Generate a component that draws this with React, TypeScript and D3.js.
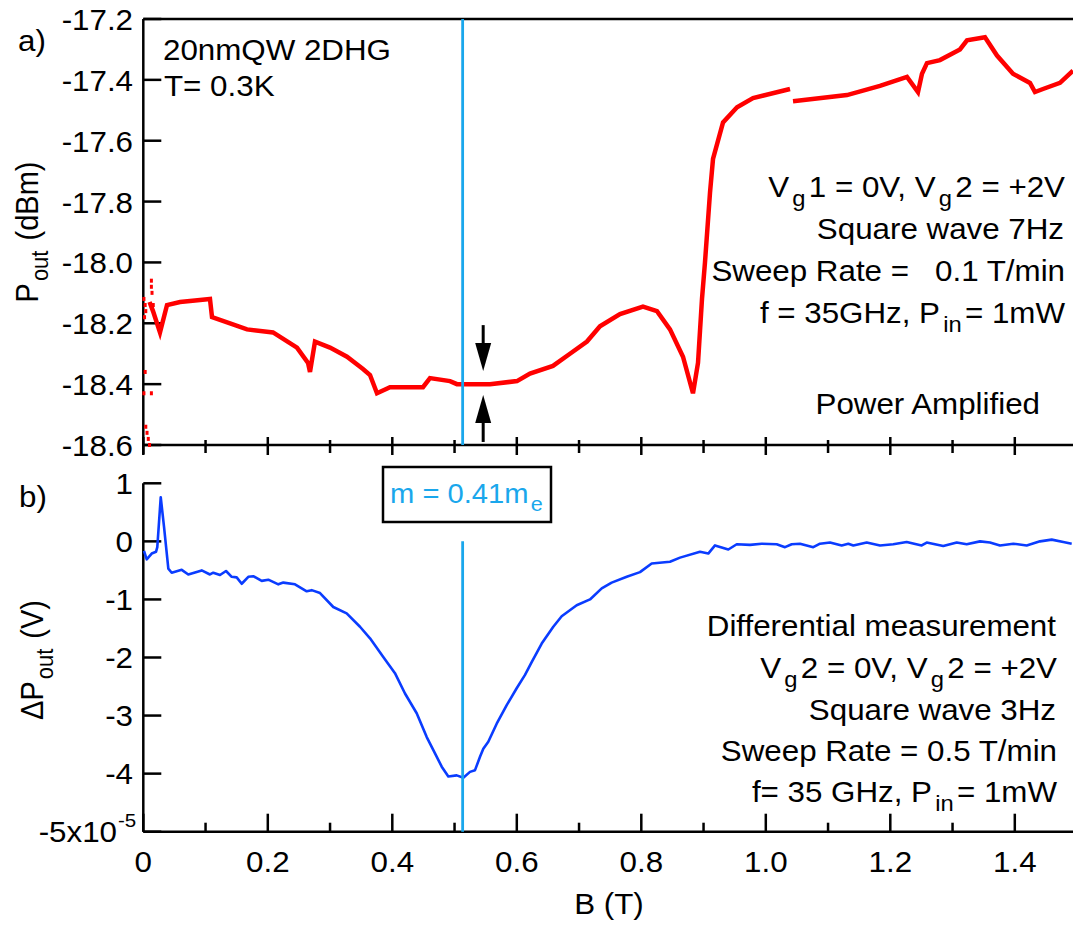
import React from 'react';
import * as d3 from 'd3';

// B field (T) and output power (dBm) for the power-amplified trace, null = gap
const redB = [0.010, 0.0156, 0.0268, 0.0381, 0.059, 0.0831, 0.1071, 0.1104, 0.1393, 0.1666, 0.2084, 0.2469, 0.2646, 0.2678, 0.2758, 0.2999, 0.3272, 0.3529, 0.3642, 0.3754, 0.3963, 0.4493, 0.4605, 0.4927, 0.5039, 0.5569, 0.6003, 0.6212, 0.6581, 0.6854, 0.7127, 0.7336, 0.7658, 0.8027, 0.8252, 0.8461, 0.867, 0.883, 0.8911, 0.8975, 0.9023, 0.9104, 0.9152, 0.9313, 0.9538, 0.9795, 1.0389, 1.041, 1.0437, 1.1304, 1.1834, 1.2268, 1.2445, 1.2509, 1.2589, 1.2798, 1.3119, 1.3232, 1.3521, 1.3714, 1.3971, 1.4244, 1.4324, 1.4453, 1.4726, 1.4935];
const redP = [-18.13, -18.16, -18.23, -18.14, -18.13, -18.125, -18.12, -18.18, -18.20, -18.22, -18.23, -18.28, -18.33, -18.36, -18.26, -18.28, -18.31, -18.35, -18.37, -18.43, -18.41, -18.41, -18.38, -18.39, -18.40, -18.40, -18.39, -18.365, -18.34, -18.30, -18.26, -18.21, -18.17, -18.145, -18.16, -18.22, -18.31, -18.43, -18.33, -18.12, -18.0, -17.77, -17.66, -17.54, -17.49, -17.46, -17.43, null, -17.47, -17.45, -17.42, -17.39, -17.44, -17.38, -17.345, -17.335, -17.30, -17.27, -17.26, -17.32, -17.38, -17.41, -17.44, -17.43, -17.41, -17.37];

// stray points at the start of the sweep
const redDotB = [0.001, 0.003, 0.004, 0.002, 0.013, 0.013, 0.014, 0.016, 0.003, 0.001, 0.013, 0.004, 0.006, 0.008, 0.010];
const redDotP = [-18.12, -18.14, -18.16, -18.18, -18.06, -18.08, -18.10, -18.14, -18.36, -18.43, -18.43, -18.54, -18.56, -18.58, -18.60];

// differential signal, units of 1e-5 V
const blueB = [0.0011, 0.0055, 0.0135, 0.0204, 0.0225, 0.028, 0.0333, 0.0402, 0.0456, 0.0617, 0.0723, 0.0938, 0.1071, 0.1124, 0.1232, 0.1329, 0.142, 0.15, 0.1581, 0.1687, 0.1767, 0.1902, 0.2008, 0.2169, 0.2249, 0.2437, 0.2625, 0.2705, 0.2839, 0.3052, 0.3267, 0.3481, 0.3642, 0.3855, 0.4043, 0.4204, 0.4392, 0.4553, 0.4686, 0.4794, 0.49, 0.5035, 0.5141, 0.5248, 0.5329, 0.5409, 0.5462, 0.5542, 0.5677, 0.5838, 0.5998, 0.6132, 0.6239, 0.64, 0.6586, 0.6721, 0.6962, 0.7176, 0.7364, 0.7524, 0.7766, 0.7979, 0.8167, 0.8461, 0.8622, 0.8943, 0.9076, 0.9184, 0.9398, 0.9533, 0.9746, 0.9934, 1.0175, 1.0309, 1.0416, 1.0549, 1.0763, 1.0871, 1.1031, 1.1219, 1.1325, 1.1406, 1.1621, 1.1835, 1.2048, 1.2263, 1.2504, 1.2585, 1.2851, 1.3067, 1.3227, 1.3441, 1.3601, 1.3762, 1.3976, 1.4191, 1.4405, 1.4593, 1.4779, 1.4914];
const blueV = [-0.165, -0.31, -0.21, -0.18, -0.1, 0.76, 0.25, -0.47, -0.54, -0.49, -0.57, -0.50, -0.57, -0.54, -0.58, -0.51, -0.61, -0.62, -0.73, -0.61, -0.60, -0.68, -0.66, -0.74, -0.71, -0.74, -0.86, -0.84, -0.89, -1.13, -1.24, -1.47, -1.67, -1.99, -2.27, -2.62, -2.96, -3.37, -3.65, -3.88, -4.05, -4.03, -4.07, -3.97, -3.94, -3.71, -3.57, -3.45, -3.14, -2.82, -2.53, -2.30, -2.08, -1.76, -1.47, -1.29, -1.10, -1.00, -0.81, -0.71, -0.61, -0.53, -0.38, -0.35, -0.28, -0.18, -0.21, -0.07, -0.14, -0.05, -0.06, -0.04, -0.05, -0.10, -0.05, -0.04, -0.10, -0.04, -0.02, -0.07, -0.04, -0.07, -0.02, -0.07, -0.05, -0.01, -0.07, -0.02, -0.08, -0.02, -0.05, 0.00, -0.02, -0.07, -0.04, -0.07, 0.00, 0.03, -0.01, -0.04];

const xMajor = [0, 0.2, 0.4, 0.6, 0.8, 1.0, 1.2, 1.4];
const xMinor = [0.1, 0.3, 0.5, 0.7, 0.9, 1.1, 1.3];
const xLabels = ['0', '0.2', '0.4', '0.6', '0.8', '1.0', '1.2', '1.4'];
const topTicks = [-17.2, -17.4, -17.6, -17.8, -18.0, -18.2, -18.4, -18.6];
const topLabels = ['-17.2', '-17.4', '-17.6', '-17.8', '-18.0', '-18.2', '-18.4', '-18.6'];
const botTicks = [1, 0, -1, -2, -3, -4, -5];
const botLabels = ['1', '0', '-1', '-2', '-3', '-4', '-5x10'];

const massB = 0.513; // resonance position
const arrowB = 0.546;

const W = 1073;
const H = 930;
const FONT = 'Liberation Sans, Arial, Helvetica, sans-serif';
const SX = 1.08;
const CYAN = '#1aa7ec';
const BLUE = '#0a3cff';

const Txt = ({ x, y, anchor = 'start', size = 29, fill = '#000', children }: any) => (
  <text transform={`translate(${x},${y}) scale(${SX},1)`} textAnchor={anchor} fontSize={size}
    fill={fill} fontFamily={FONT} style={{ whiteSpace: 'pre' }}>{children}</text>
);

// subscript followed by the rest of the line back on the baseline
const Sub = ({ s, rest }: any) => (
  <>
    <tspan dx={3} dy={9} fontSize={22}>{s}</tspan>
    <tspan dx={3} dy={-9}>{rest}</tspan>
  </>
);

export default function App() {
  const x = d3.scaleLinear().domain([0, 1.5]).range([143.3, 143.3 + 1.5 * 622.5]);
  const yTop = d3.scaleLinear().domain([-18.6, -17.2]).range([445, 19]);
  const yBot = d3.scaleLinear().domain([-5, 1]).range([831.7, 483.3]);

  const redData = redB.map((b, i) => ({ b, v: redP[i] }));
  const redLine = d3.line<any>()
    .defined(d => d.v != null)
    .x(d => x(d.b))
    .y(d => yTop(d.v));

  const blueData = blueB.map((b, i) => ({ b, v: blueV[i] }));
  const blueLine = d3.line<any>().x(d => x(d.b)).y(d => yBot(d.v));

  const x0 = x(0);
  const ax = 2.5;
  const ah = x(arrowB);

  return (
    <svg width={W} height={H} style={{ position: 'absolute', left: 0, top: 0, background: '#fff' }}>
      {/* ---- panel a ---- */}
      <line x1={x0} x2={W} y1={yTop(-17.2)} y2={yTop(-17.2)} stroke="#000" strokeWidth={ax} />
      <line x1={x0} x2={x0} y1={yTop(-17.2)} y2={yTop(-18.6) + 9} stroke="#000" strokeWidth={ax} />
      <line x1={x0} x2={W} y1={yTop(-18.6)} y2={yTop(-18.6)} stroke="#000" strokeWidth={ax} />
      {topTicks.map((t, i) => (
        <g key={'ty' + i}>
          <line x1={x0} x2={x0 + 18} y1={yTop(t)} y2={yTop(t)} stroke="#000" strokeWidth={ax} />
          <Txt x={133} y={yTop(t) + 11} anchor="end">{topLabels[i]}</Txt>
        </g>
      ))}
      {xMajor.map(t => (
        <line key={'tx' + t} x1={x(t)} x2={x(t)} y1={437} y2={455} stroke="#000" strokeWidth={ax} />
      ))}
      {xMinor.map(t => (
        <line key={'tm' + t} x1={x(t)} x2={x(t)} y1={440} y2={453} stroke="#000" strokeWidth={ax} />
      ))}

      <path d={redLine(redData) || ''} fill="none" stroke="#ff0000" strokeWidth={4.5} strokeLinejoin="miter" />
      {redDotB.map((b, i) => (
        <rect key={'rd' + i} x={x(b) - 1.5} y={yTop(redDotP[i]) - 2} width={3} height={4} fill="#ff0000" />
      ))}

      <line x1={x(massB)} x2={x(massB)} y1={yTop(-17.2)} y2={yTop(-18.6)} stroke={CYAN} strokeWidth={2.8} />

      {/* arrows marking the dip */}
      <line x1={ah} x2={ah} y1={yTop(-18.206)} y2={yTop(-18.27)} stroke="#000" strokeWidth={3} />
      <path d={`M${ah - 8},${yTop(-18.265)} L${ah + 8},${yTop(-18.265)} L${ah},${yTop(-18.357)} Z`} fill="#000" />
      <line x1={ah} x2={ah} y1={yTop(-18.59)} y2={yTop(-18.52)} stroke="#000" strokeWidth={3} />
      <path d={`M${ah - 8},${yTop(-18.528)} L${ah + 8},${yTop(-18.528)} L${ah},${yTop(-18.436)} Z`} fill="#000" />

      <Txt x={18} y={51}>a)</Txt>
      <Txt x={163} y={60}>20nmQW 2DHG</Txt>
      <Txt x={164} y={96}>T= 0.3K</Txt>
      <Txt x={1065} y={197} anchor="end">V<Sub s="g" rest="1 = 0V, V" /><Sub s="g" rest="2 = +2V" /></Txt>
      <Txt x={1064} y={239} anchor="end">Square wave 7Hz</Txt>
      <Txt x={1065} y={281} anchor="end">Sweep Rate =   0.1 T/min</Txt>
      <Txt x={1065} y={323} anchor="end">f = 35GHz, P<Sub s="in" rest="= 1mW" /></Txt>
      <Txt x={1040} y={414} anchor="end">Power Amplified</Txt>

      <text transform={`translate(38,232) rotate(-90) scale(1,${SX})`} textAnchor="middle" fontSize={29} fontFamily={FONT}>
        P<tspan dx={2} dy={9} fontSize={22}>out</tspan><tspan dx={2} dy={-9}> (dBm)</tspan>
      </text>

      {/* ---- panel b ---- */}
      <line x1={x0} x2={x0} y1={yBot(1)} y2={yBot(-5)} stroke="#000" strokeWidth={ax} />
      <line x1={x0} x2={W} y1={yBot(-5)} y2={yBot(-5)} stroke="#000" strokeWidth={ax} />
      {botTicks.map((t, i) => (
        <g key={'by' + i}>
          <line x1={x0} x2={x0 + 18} y1={yBot(t)} y2={yBot(t)} stroke="#000" strokeWidth={ax} />
          <Txt x={t === -5 ? 117 : 133} y={yBot(t) + 10.5} anchor="end">{botLabels[i]}</Txt>
        </g>
      ))}
      <Txt x={118} y={yBot(-5) - 5} size={19}>-5</Txt>
      {xMajor.map((t, i) => (
        <g key={'bx' + t}>
          <line x1={x(t)} x2={x(t)} y1={yBot(-5) - 18} y2={yBot(-5)} stroke="#000" strokeWidth={ax} />
          <Txt x={x(t)} y={872} anchor="middle">{xLabels[i]}</Txt>
        </g>
      ))}
      {xMinor.map(t => (
        <line key={'bm' + t} x1={x(t)} x2={x(t)} y1={yBot(-5) - 9} y2={yBot(-5)} stroke="#000" strokeWidth={ax} />
      ))}

      <path d={blueLine(blueData) || ''} fill="none" stroke={BLUE} strokeWidth={2.6} strokeLinejoin="round" />
      <line x1={x(massB)} x2={x(massB)} y1={yBot(0)} y2={yBot(-5)} stroke={CYAN} strokeWidth={2.8} />

      <rect x={383} y={467} width={168} height={55} fill="#fff" stroke="#000" strokeWidth={2.5} />
      <Txt x={390} y={503} size={27} fill={CYAN}>m = 0.41m<tspan dx={2} dy={8} fontSize={20}>e</tspan></Txt>

      <Txt x={19} y={507}>b)</Txt>
      <Txt x={1056} y={636} anchor="end">Differential measurement</Txt>
      <Txt x={1057} y={678} anchor="end">V<Sub s="g" rest="2 = 0V, V" /><Sub s="g" rest="2 = +2V" /></Txt>
      <Txt x={1056} y={720} anchor="end">Square wave 3Hz</Txt>
      <Txt x={1057} y={761} anchor="end">Sweep Rate = 0.5 T/min</Txt>
      <Txt x={1057} y={802} anchor="end">f= 35 GHz, P<Sub s="in" rest="= 1mW" /></Txt>

      <text transform={`translate(43,660) rotate(-90) scale(1,${SX})`} textAnchor="middle" fontSize={29} fontFamily={FONT}>
        ΔP<tspan dx={2} dy={9} fontSize={22}>out</tspan><tspan dx={2} dy={-9}> (V)</tspan>
      </text>

      <Txt x={609} y={914} anchor="middle">B (T)</Txt>
    </svg>
  );
}
